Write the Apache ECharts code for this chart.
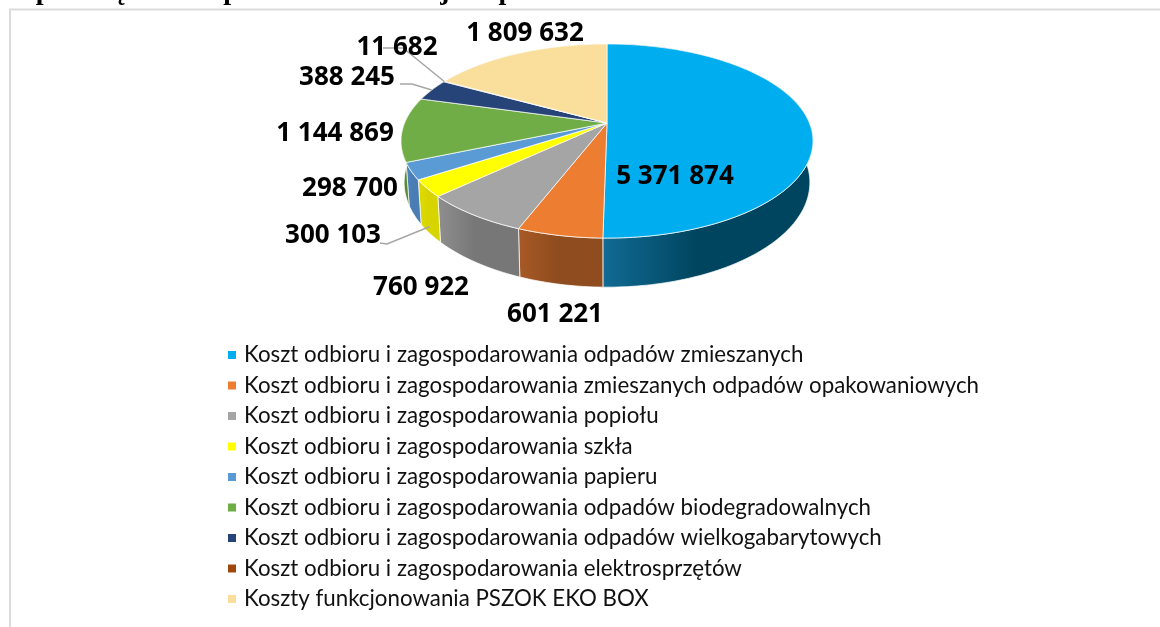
<!DOCTYPE html>
<html><head><meta charset="utf-8">
<style>html,body{margin:0;padding:0;background:#fff}#c{width:1160px;height:627px}</style>
<script src="https://cdn.jsdelivr.net/npm/echarts@6/dist/echarts.min.js"></script>
</head><body><div id="c"></div>
<script>
const categories = [
  'Koszt odbioru i zagospodarowania odpadów zmieszanych',
  'Koszt odbioru i zagospodarowania zmieszanych odpadów opakowaniowych',
  'Koszt odbioru i zagospodarowania popiołu',
  'Koszt odbioru i zagospodarowania szkła',
  'Koszt odbioru i zagospodarowania papieru',
  'Koszt odbioru i zagospodarowania odpadów biodegradowalnych',
  'Koszt odbioru i zagospodarowania odpadów wielkogabarytowych',
  'Koszt odbioru i zagospodarowania elektrosprzętów',
  'Koszty funkcjonowania PSZOK EKO BOX'
];
const values = [5371874, 601221, 760922, 300103, 298700, 1144869, 388245, 11682, 1809632];
const titleText = 'Opłata łączna na podstawowe frakcje odpadów oraz PSZOK w 2020 roku';

// Styles
const topColors = ['#00aeef', '#ed7d31', '#a5a5a5', '#ffff00', '#5b9bd5', '#70ad47', '#264478', '#9e480e', '#fadf9c'];
const sideStart = ['#116b94', '#a85a26', '#8f8f8f', '#e0dc00', '#4f86c0', '#5f9339', '#1d3660', '#7f3a0b', '#c8b27c'];
const sideMid   = ['#00455f', '#8f4c1e', '#777777', '#d8d400', '#4a7db3', '#557f34', '#1d3660', '#7f3a0b', '#c8b27c'];
// Layout: label centres and leader elbows, in pixels
const labelCentres = [[675,177],[555,315],[421,288],[333,236],[350,189],[335,134],[347,78],[397,48],[525,34]];
const leaders = {3:{pts:[[380,243],[387,244]],drop:0.85}, 6:{pts:[[400,84],[412,84]],drop:0}, 7:{pts:[[383,48],[403,48]],drop:0}};
// Perspective disc
const P = {cx:607, cy:123, a:202.4, b:93.7, k:0.1856, depth:40, shrink:0.985};

const total = values.reduce((s,v)=>s+v,0);
const starts = values.map((_,i)=>values.slice(0,i).reduce((s,v)=>s+v,0));
function proj(t, drop){
  const X=Math.sin(t), Y=-Math.cos(t), w=1-P.k*Y;
  const sx = 1-(1-P.shrink)*drop;
  return [P.cx+sx*P.a*X/w, P.cy+P.b*Y/w+drop*P.depth/w];
}
function arc(t0,t1,drop){
  const n=Math.max(2,Math.ceil((t1-t0)/0.02)), out=[];
  for(let i=0;i<=n;i++) out.push(proj(t0+(t1-t0)*i/n,drop));
  return out;
}
const fmt = v=>String(v).replace(/\B(?=(\d{3})+$)/g,' ');
const edge='rgba(255,255,255,0.72)';

function renderer(i){
  return function(params, api){
    const v=api.value(0);
    const t0=starts[i]/total*2*Math.PI, t1=(starts[i]+v)/total*2*Math.PI;
    const topArc=arc(t0,t1,0), botArc=arc(t0,t1,1).reverse();
    const wallPts=topArc.concat(botArc);
    const children=[
      {type:'polygon',z2:1,shape:{points:wallPts},style:{
        fill:{type:'linear',x:0,y:0,x2:1,y2:0,global:false,colorStops:[
          {offset:0,color:sideStart[i]},{offset:0.45,color:sideMid[i]},{offset:1,color:sideMid[i]}]},
        stroke:edge,lineWidth:1}},
      {type:'polygon',z2:10,shape:{points:[[P.cx,P.cy]].concat(topArc)},style:{fill:topColors[i],stroke:edge,lineWidth:1}},
      {type:'text',z2:30,style:{text:fmt(v),x:labelCentres[i][0],y:labelCentres[i][1],align:'center',verticalAlign:'middle',
        font:'bold 26px "Noto Sans"',fill:'#000'}}
    ];
    if(leaders[i]){
      const tm=(t0+t1)/2, end=proj(tm,leaders[i].drop);
      children.push({type:'polyline',z2:25,shape:{points:leaders[i].pts.concat([end])},style:{fill:null,stroke:'#a6a6a6',lineWidth:1.5}});
    }
    return {type:'group',children};
  };
}

const chart=echarts.init(document.getElementById('c'),null,{renderer:'canvas'});
chart.setOption({
  animation:false,
  backgroundColor:'#ffffff',
  title:{text:titleText,left:9,top:-27,textStyle:{fontFamily:'Liberation Serif',fontWeight:'bold',fontSize:28,color:'#000'}},
  tooltip:{show:false},
  legend:{
    orient:'vertical',left:223,top:339,itemWidth:8,itemHeight:8,itemGap:8.5,
    icon:'rect',selectedMode:false,
    data:categories,
    textStyle:{fontFamily:'Lato',fontSize:22.3,color:'#111',padding:[0,0,0,3],lineHeight:22}
  },
  graphic:[{type:'polyline',silent:true,shape:{points:[[10,640],[10,9.5],[1170,9.5]]},style:{fill:null,stroke:'#dcdcdc',lineWidth:2}}],
  series:categories.map((name,i)=>({
    type:'custom',name,coordinateSystem:'none',silent:true,
    itemStyle:{color:topColors[i]},
    renderItem:renderer(i),
    data:[[values[i]]]
  }))
});
</script></body></html>
